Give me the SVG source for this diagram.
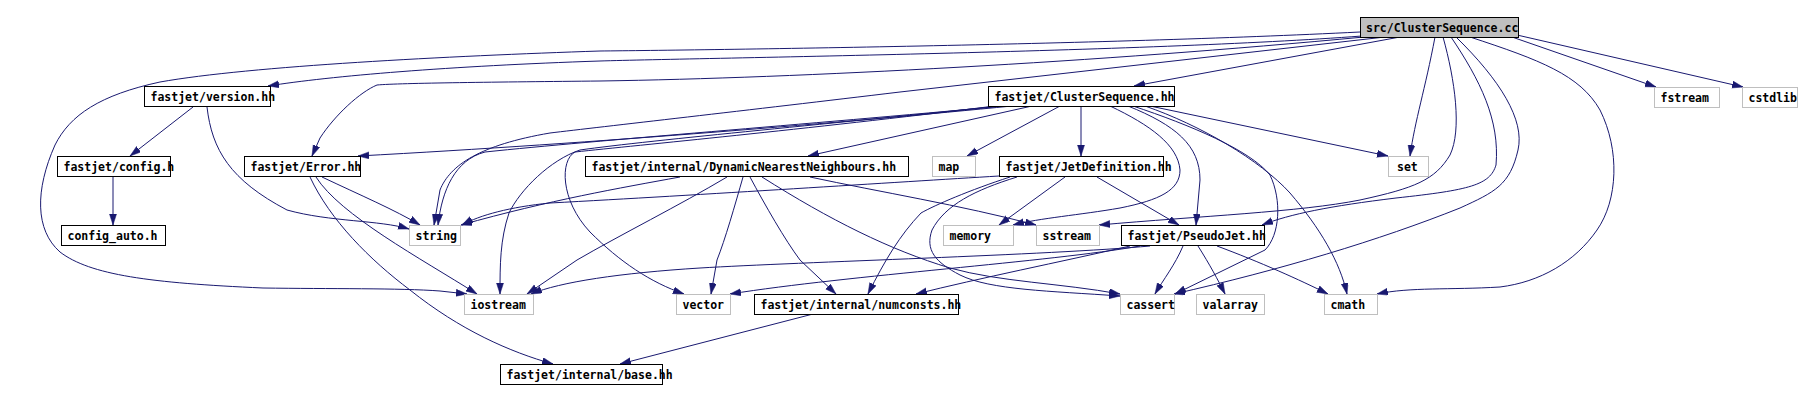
<svg xmlns="http://www.w3.org/2000/svg" width="1798" height="401" viewBox="0 0 1798 401">
<defs>
<marker id="ah" markerUnits="userSpaceOnUse" markerWidth="12" markerHeight="8" refX="11" refY="3.5" orient="auto">
<path d="M0,0 L11,3.5 L0,7 Z" fill="#191970" stroke="#191970" stroke-width="0.5"/>
</marker>
</defs>
<style>
.e{fill:none;stroke:#191970;stroke-width:1;marker-end:url(#ah)}
.n rect{fill:#ffffff;stroke:#000000;stroke-width:1}
.g rect{fill:#ffffff;stroke:#bfbfbf;stroke-width:1}
.r rect{fill:#bfbfbf;stroke:#000000;stroke-width:1}
text{font-family:"DejaVu Sans Mono","Liberation Mono",monospace;font-size:11.5px;font-weight:bold;fill:#000000}
</style>
<rect x="0" y="0" width="1798" height="401" fill="#ffffff"/>
<g id="edges">
<path class="e" d="M1362,36 C1150,52 700,58 600,61 C450,66 330,76 268,86"/>
<path class="e" d="M1360,32 C1100,45 700,50 600,51 C450,56 250,66 160,82 C100,95 70,115 55,145 C35,190 35,230 60,252 C90,275 150,283 263,288 C330,289 400,288 440,291 L467,294"/>
<path class="e" d="M1364,37 C1100,62 800,78 600,81 C500,82 400,83 377,85 C360,92 335,115 320,138 L312,156"/>
<path class="e" d="M1400,37 L1134,86"/>
<path class="e" d="M1385,37 L900,92 C750,110 600,127 550,133 C480,145 450,165 440,190 L434,225"/>
<path class="e" d="M1435,37 C1425,90 1415,120 1410,156"/>
<path class="e" d="M1443,37 C1455,80 1462,130 1450,155 C1435,180 1415,188 1360,200 C1300,212 1200,216 1099,225"/>
<path class="e" d="M1451,37 C1480,80 1500,120 1496,165 C1490,185 1470,190 1396,198 C1330,206 1290,214 1262,225"/>
<path class="e" d="M1456,37 C1500,80 1525,120 1518,150 C1510,185 1495,192 1460,208 C1380,240 1280,270 1174,294"/>
<path class="e" d="M1470,37 C1540,60 1580,75 1600,110 C1620,150 1618,200 1597,230 C1575,262 1540,282 1500,287 C1450,290 1410,287 1377,294"/>
<path class="e" d="M1512,37 L1656,87"/>
<path class="e" d="M1517,35 L1743,87"/>
<path class="e" d="M1032,106 L808,156"/>
<path class="e" d="M1012,106 C850,122 600,143 358,156"/>
<path class="e" d="M1005,106 C800,125 600,140 485,152 C455,160 442,190 438,225"/>
<path class="e" d="M1000,106 C850,122 650,140 580,150 C550,160 520,190 509,213 C500,240 500,265 500,294"/>
<path class="e" d="M995,106 C800,130 640,145 575,152 C560,160 560,200 590,232 C620,262 650,282 684,294"/>
<path class="e" d="M1060,106 L967,156"/>
<path class="e" d="M1081,106 L1081,156"/>
<path class="e" d="M1150,106 L1388,156"/>
<path class="e" d="M1128,106 C1175,125 1200,145 1200,180 L1196,225"/>
<path class="e" d="M1110,106 C1150,125 1178,145 1180,170 C1180,190 1160,200 1120,208 C1080,215 1040,218 1013,225"/>
<path class="e" d="M1133,106 C1190,125 1250,150 1270,175 C1282,200 1280,235 1265,250 L1175,294"/>
<path class="e" d="M1145,106 C1200,125 1260,160 1290,193 C1320,228 1340,262 1347,294"/>
<path class="e" d="M680,177 C620,188 550,200 461,225"/>
<path class="e" d="M999,176 C900,182 700,195 550,203 C510,207 480,215 462,225"/>
<path class="e" d="M727,177 C680,205 620,235 577,260 L527,294"/>
<path class="e" d="M743,177 C735,205 725,240 717,260 L711,294"/>
<path class="e" d="M750,177 C765,205 785,240 800,260 L836,294"/>
<path class="e" d="M762,177 C830,220 890,250 950,268 C1000,282 1060,283 1120,294"/>
<path class="e" d="M810,177 C880,192 960,205 1036,225"/>
<path class="e" d="M1065,177 L999,225"/>
<path class="e" d="M1097,177 L1179,225"/>
<path class="e" d="M1010,177 C970,190 935,205 921,213 C900,235 885,260 868,294"/>
<path class="e" d="M1017,177 C975,190 945,205 932,230 C925,250 935,262 960,275 C990,290 1050,291 1120,296"/>
<path class="e" d="M1150,246 C1050,255 800,262 700,268 C620,273 560,282 531,294"/>
<path class="e" d="M1140,246 C1050,262 850,275 730,294"/>
<path class="e" d="M1130,246 C1060,262 980,278 916,294"/>
<path class="e" d="M1183,246 C1175,265 1163,280 1155,294"/>
<path class="e" d="M1198,246 C1210,265 1218,280 1225,294"/>
<path class="e" d="M1217,246 C1260,262 1300,280 1328,294"/>
<path class="e" d="M322,177 C360,195 395,210 420,225"/>
<path class="e" d="M316,177 C340,215 420,258 477,294"/>
<path class="e" d="M310,177 C330,220 370,260 410,290 C460,330 510,352 553,364"/>
<path class="e" d="M193,107 L130,156"/>
<path class="e" d="M207,107 C212,150 230,180 287,210 C330,222 380,220 409,229"/>
<path class="e" d="M113,177 L113,225"/>
<path class="e" d="M813,314 L620,364"/>
</g>
<g id="n_src" class="r"><rect x="1360.5" y="17.5" width="158" height="20"/><text x="1366" y="31.5">src/ClusterSequence.cc</text></g>
<g id="n_version" class="n"><rect x="144.5" y="86.5" width="126" height="20"/><text x="150.5" y="100.5">fastjet/version.hh</text></g>
<g id="n_csh" class="n"><rect x="988.5" y="86.5" width="186" height="20"/><text x="994.5" y="100.5">fastjet/ClusterSequence.hh</text></g>
<g id="n_fstream" class="g"><rect x="1654.5" y="87.5" width="65" height="20"/><text x="1660.5" y="101.5">fstream</text></g>
<g id="n_cstdlib" class="g"><rect x="1742.5" y="87.5" width="55" height="20"/><text x="1748.5" y="101.5">cstdlib</text></g>
<g id="n_config" class="n"><rect x="57.5" y="156.5" width="113" height="20"/><text x="63.5" y="170.5">fastjet/config.h</text></g>
<g id="n_configauto" class="n"><rect x="61.5" y="225.5" width="104" height="20"/><text x="67.5" y="239.5">config_auto.h</text></g>
<g id="n_error" class="n"><rect x="244.5" y="156.5" width="116" height="20"/><text x="250.5" y="170.5">fastjet/Error.hh</text></g>
<g id="n_string" class="g"><rect x="409.5" y="225.5" width="51" height="20"/><text x="415.5" y="239.5">string</text></g>
<g id="n_dnn" class="n"><rect x="585.5" y="156.5" width="323" height="20"/><text x="591.5" y="170.5">fastjet/internal/DynamicNearestNeighbours.hh</text></g>
<g id="n_map" class="g"><rect x="932.5" y="156.5" width="43" height="20"/><text x="938.5" y="170.5">map</text></g>
<g id="n_jetdef" class="n"><rect x="999.5" y="156.5" width="164" height="20"/><text x="1005.5" y="170.5">fastjet/JetDefinition.hh</text></g>
<g id="n_set" class="g"><rect x="1388.5" y="156.5" width="40" height="20"/><text x="1397" y="170.5">set</text></g>
<g id="n_memory" class="g"><rect x="943.5" y="225.5" width="70" height="20"/><text x="949.5" y="239.5">memory</text></g>
<g id="n_sstream" class="g"><rect x="1036.5" y="225.5" width="63" height="20"/><text x="1042.5" y="239.5">sstream</text></g>
<g id="n_pseudojet" class="n"><rect x="1121.5" y="225.5" width="143" height="20"/><text x="1127.5" y="239.5">fastjet/PseudoJet.hh</text></g>
<g id="n_iostream" class="g"><rect x="464.5" y="294.5" width="69" height="20"/><text x="470.5" y="308.5">iostream</text></g>
<g id="n_vector" class="g"><rect x="676.5" y="294.5" width="54" height="20"/><text x="682.5" y="308.5">vector</text></g>
<g id="n_numconsts" class="n"><rect x="754.5" y="294.5" width="204" height="20"/><text x="760.5" y="308.5">fastjet/internal/numconsts.hh</text></g>
<g id="n_cassert" class="g"><rect x="1120.5" y="294.5" width="54" height="20"/><text x="1126.5" y="308.5">cassert</text></g>
<g id="n_valarray" class="g"><rect x="1196.5" y="294.5" width="68" height="20"/><text x="1202.5" y="308.5">valarray</text></g>
<g id="n_cmath" class="g"><rect x="1324.5" y="294.5" width="53" height="20"/><text x="1330.5" y="308.5">cmath</text></g>
<g id="n_base" class="n"><rect x="500.5" y="364.5" width="162" height="20"/><text x="506.5" y="378.5">fastjet/internal/base.hh</text></g>
</svg>
